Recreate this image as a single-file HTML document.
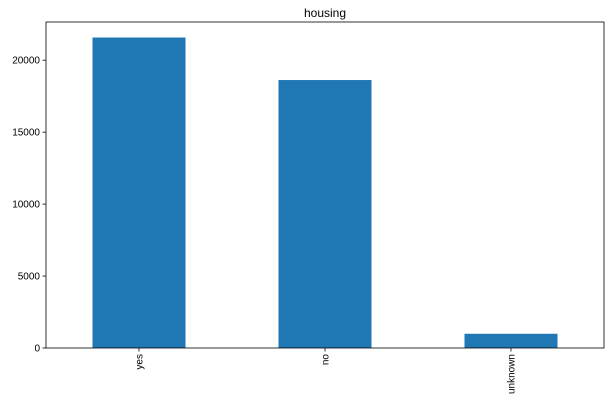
<!DOCTYPE html>
<html><head><meta charset="utf-8"><style>
body{margin:0;background:#fff;}
svg text{font-family:"Liberation Sans","DejaVu Sans",sans-serif;font-size:10px;fill:#000;}
</style></head><body>
<svg id="chart" width="611" height="408">
<text x="325" y="17" text-anchor="middle" style="font-size:12px">housing</text>
</svg>
<script>
const categories = ["yes","no","unknown"];
const values = [21576, 18622, 990];
const yTicks = [0,5000,10000,15000,20000];

const svg = document.getElementById('chart');
const NS = 'http://www.w3.org/2000/svg';
const L=46, R=604, T=22, B=348;
const yMax = 22654.8;
const y = v => B - v/yMax*(B-T);
const step = (R-L)/categories.length;
const xc = i => L + step*(i+0.5);
function mk(tag, attrs){const e=document.createElementNS(NS,tag);for(const k in attrs)e.setAttribute(k,attrs[k]);svg.appendChild(e);return e;}

categories.forEach((c,i)=>{
  const b = mk('rect',{x:xc(i)-step/4,y:y(values[i]),width:step/2,height:B-y(values[i]),fill:'#1f77b4'});
  
  
  const t = mk('line',{x1:xc(i),x2:xc(i),y1:B,y2:B+3.5,stroke:'#000','stroke-width':0.8});
  
  
  const tx = mk('text',{x:0,y:0,'text-anchor':'end',transform:`translate(${xc(i)+3.5},${B+6}) rotate(-90)`});
  tx.textContent = c;
  
  
});
yTicks.forEach(v=>{
  const t = mk('line',{x1:L-3.5,x2:L,y1:y(v),y2:y(v),stroke:'#000','stroke-width':0.8});
  
  
  const tx = mk('text',{x:L-6,y:y(v)+3.5,'text-anchor':'end'});
  tx.textContent = v;
  
  
});
const frame = mk('rect',{x:L,y:T,width:R-L,height:B-T,fill:'none',stroke:'#000','stroke-width':0.8});


</script>
</body></html>
